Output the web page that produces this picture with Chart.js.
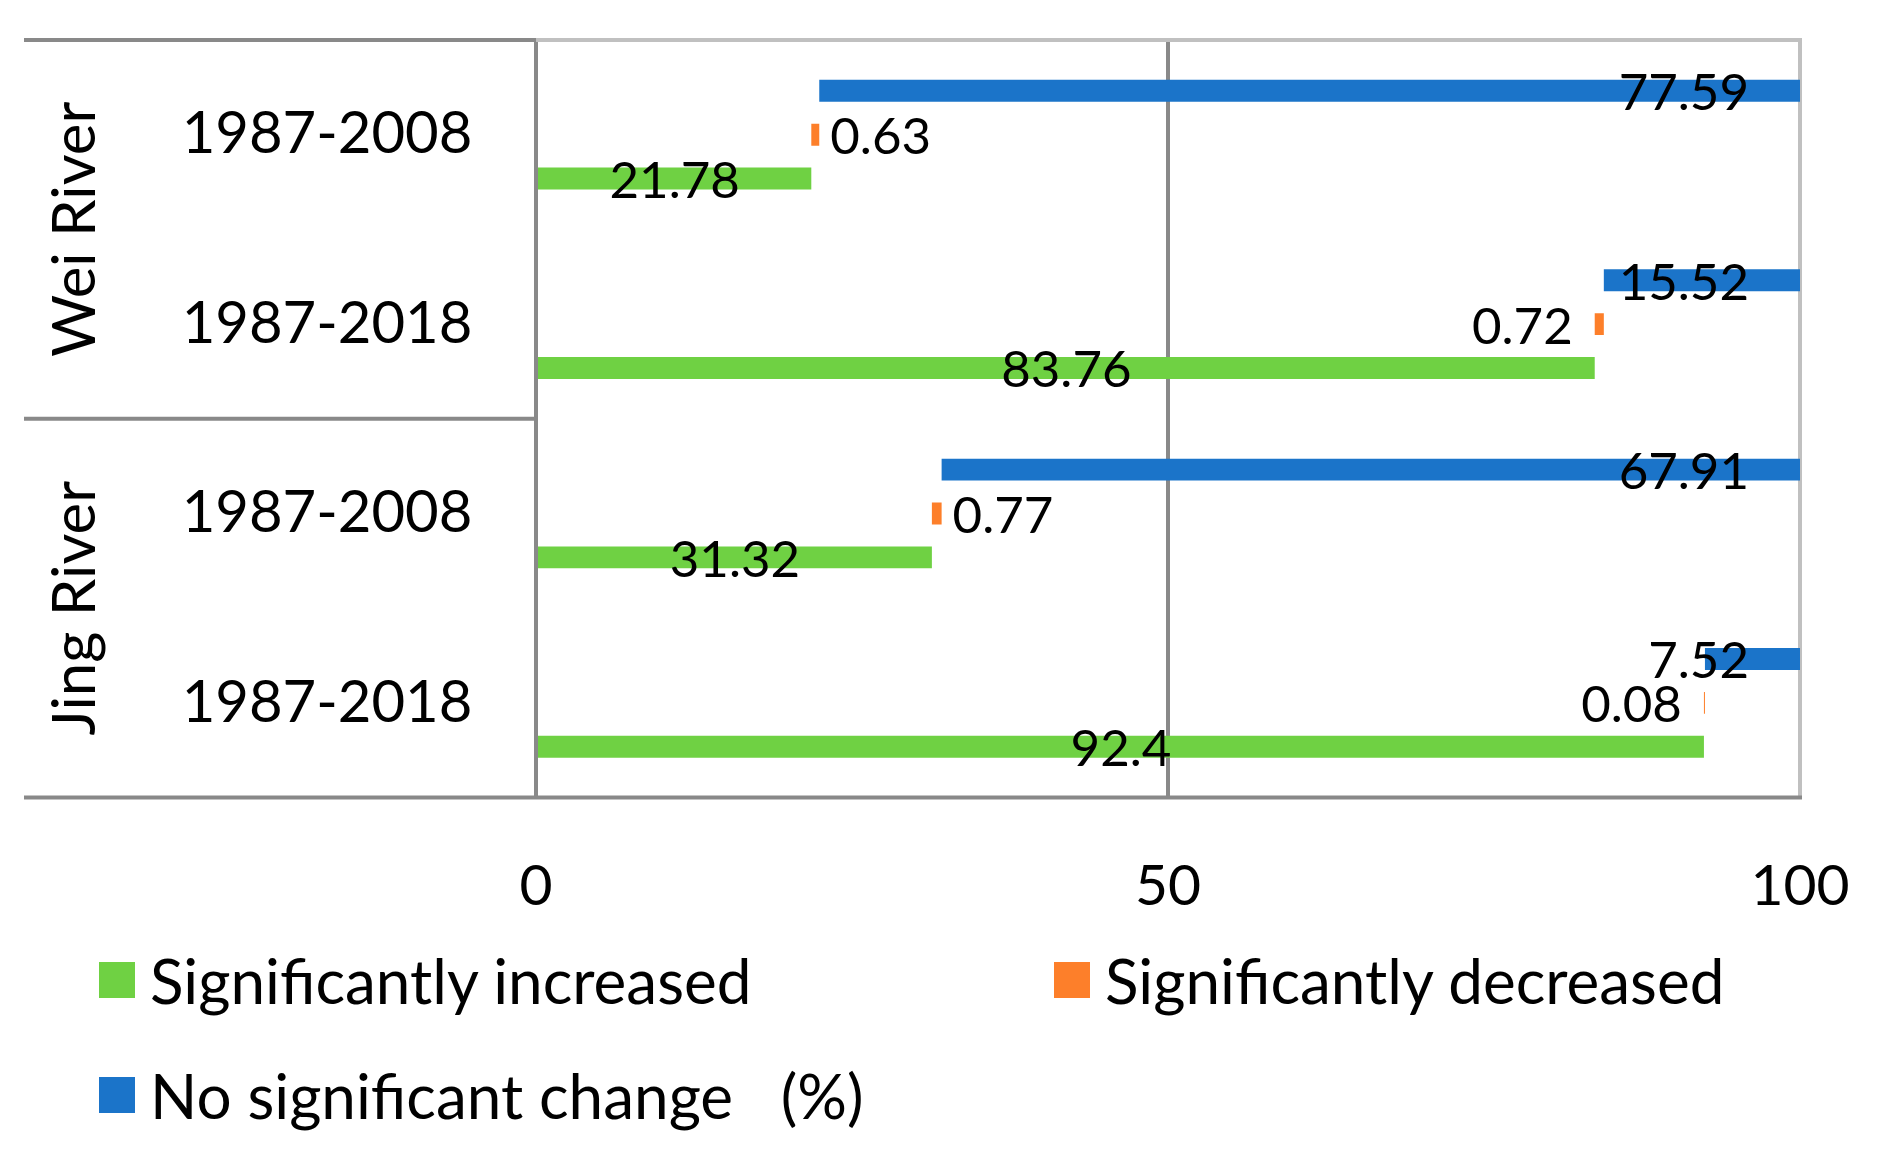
<!DOCTYPE html>
<html>
<head>
<meta charset="utf-8">
<script src="https://cdn.jsdelivr.net/npm/chart.js@4/dist/chart.umd.min.js"></script>
<style>
  html, body { margin: 0; padding: 0; background: #fff; }
  #wrap { position: relative; width: 1885px; height: 1170px; font-family: Lato, sans-serif; }
  #chart { position: absolute; left: 0; top: 0; }
  .leg { position: absolute; display: flex; align-items: center; font-size: 62px; color: #000; white-space: pre; }
  .leg span.box { display: inline-block; width: 36px; height: 36px; margin-right: 15px; }
</style>
</head>
<body>
<div id="wrap">
  <canvas id="chart" width="1885" height="1170"></canvas>
  <div class="leg" style="left:99px; top:943px; height:74px;"><span class="box" style="background:#6fd143"></span>Significantly increased</div>
  <div class="leg" style="left:1054px; top:943px; height:74px;"><span class="box" style="background:#fd7f2a"></span>Significantly decreased</div>
  <div class="leg" style="left:99px; top:1058px; height:74px;"><span class="box" style="background:#1b74c9"></span>No significant change   (%)</div>
</div>
<script>
// 数据
const rivers = ['Wei River', 'Jing River'];
const periods = ['1987-2008', '1987-2018', '1987-2008', '1987-2018'];
const riverOf = [0, 0, 1, 1]; // 每个类别属于哪条河
const increased = [21.78, 83.76, 31.32, 92.4];
const decreased = [0.63, 0.72, 0.77, 0.08];
const noChange = [77.59, 15.52, 67.91, 7.52];
const xTicks = [0, 50, 100];

const GREEN = '#6fd143';
const ORANGE = '#fd7f2a';
const BLUE = '#1b74c9';
const DARK = '#898989';
const LIGHT = '#c0c0c0';
const FONT = 'Lato, sans-serif';

// 浮动条：绿色从0开始，橙色接着，蓝色到100
const greenBars = increased.map(v => [0, v]);
const orangeBars = increased.map((v, i) => [v, v + decreased[i]]);
const blueBars = increased.map((v, i) => [v + decreased[i], v + decreased[i] + noChange[i]]);

// 左侧表格 + 边框
const framePlugin = {
    id: 'frame',
    beforeDatasetsDraw(chart) {
        const { ctx, chartArea, scales } = chart;
        const y = scales.y;
        const left = 24;
        ctx.save();
        ctx.lineWidth = 4;
        // 顶部
        ctx.strokeStyle = DARK;
        ctx.beginPath(); ctx.moveTo(left, chartArea.top); ctx.lineTo(chartArea.left, chartArea.top); ctx.stroke();
        ctx.strokeStyle = LIGHT;
        ctx.beginPath(); ctx.moveTo(chartArea.left, chartArea.top); ctx.lineTo(chartArea.right + 2, chartArea.top); ctx.stroke();
        // 分隔线
        const mid = (y.getPixelForValue(1) + y.getPixelForValue(2)) / 2;
        ctx.strokeStyle = DARK;
        ctx.beginPath(); ctx.moveTo(left, mid); ctx.lineTo(chartArea.left, mid); ctx.stroke();
        // 底部
        ctx.beginPath(); ctx.moveTo(left, chartArea.bottom); ctx.lineTo(chartArea.right + 2, chartArea.bottom); ctx.stroke();

        // 类别标签
        ctx.fillStyle = '#000';
        ctx.font = '58px ' + FONT;
        ctx.textAlign = 'center';
        ctx.textBaseline = 'middle';
        periods.forEach((p, i) => ctx.fillText(p, 327, y.getPixelForValue(i)));

        // 河流标签（竖排）
        ctx.font = '60px ' + FONT;
        const bounds = [chartArea.top, mid, chartArea.bottom];
        rivers.forEach((r, k) => {
            const cy = (bounds[k] + bounds[k + 1]) / 2;
            ctx.save();
            ctx.translate(76, cy);
            ctx.rotate(-Math.PI / 2);
            ctx.fillText(r, 0, 0);
            ctx.restore();
        });
        ctx.restore();
    }
};

// 数据标签
const labelPlugin = {
    id: 'valueLabels',
    afterDatasetsDraw(chart) {
        const { ctx, chartArea } = chart;
        ctx.save();
        ctx.fillStyle = '#000';
        ctx.font = '51px ' + FONT;
        ctx.textBaseline = 'middle';
        chart.data.datasets.forEach((ds, di) => {
            const meta = chart.getDatasetMeta(di);
            meta.data.forEach((bar, i) => {
                const text = String(ds.values[i]);
                const x0 = Math.min(bar.x, bar.base);
                const x1 = Math.max(bar.x, bar.base);
                const cy = bar.y + 3;
                if (ds.kind === 'green') {
                    ctx.textAlign = 'center';
                    ctx.fillText(text, (x0 + x1) / 2, cy);
                } else if (ds.kind === 'blue') {
                    ctx.textAlign = 'right';
                    ctx.fillText(text, chartArea.right - 51, cy);
                } else {
                    // 靠右时标签放左边
                    if (x1 > chartArea.left + chartArea.width * 0.8) {
                        ctx.textAlign = 'right';
                        ctx.fillText(text, x0 - 22, cy);
                    } else {
                        ctx.textAlign = 'left';
                        ctx.fillText(text, x1 + 11, cy);
                    }
                }
            });
        });
        ctx.restore();
    }
};

const chart = new Chart(document.getElementById('chart').getContext('2d'), {
    type: 'bar',
    data: {
        labels: periods.map((p, i) => rivers[riverOf[i]] + ' ' + p),
        datasets: [
            { label: 'No significant change', kind: 'blue', values: noChange, data: blueBars, backgroundColor: BLUE },
            { label: 'Significantly decreased', kind: 'orange', values: decreased, data: orangeBars, backgroundColor: ORANGE },
            { label: 'Significantly increased', kind: 'green', values: increased, data: greenBars, backgroundColor: GREEN }
        ]
    },
    options: {
        indexAxis: 'y',
        responsive: false,
        animation: false,
        devicePixelRatio: 1,
        layout: { padding: { left: 536, right: 85, top: 40, bottom: 194 } },
        datasets: { bar: { categoryPercentage: 0.695, barPercentage: 0.5, grouped: true } },
        plugins: {
            legend: { display: false },
            tooltip: { enabled: false }
        },
        scales: {
            x: {
                min: 0,
                max: 100,
                afterBuildTicks: (axis) => { axis.ticks = xTicks.map(v => ({ value: v })); },
                afterFit: (axis) => { axis.paddingLeft = 0; axis.paddingRight = 0; },
                ticks: { font: { family: FONT, size: 57 }, color: '#000', padding: 55, maxRotation: 0 },
                grid: {
                    drawTicks: false,
                    lineWidth: 4,
                    color: (c) => (c.tick && c.tick.value === 100 ? LIGHT : DARK)
                },
                border: { display: false }
            },
            y: { display: false }
        }
    },
    plugins: [framePlugin, labelPlugin]
});
</script>
</body>
</html>
